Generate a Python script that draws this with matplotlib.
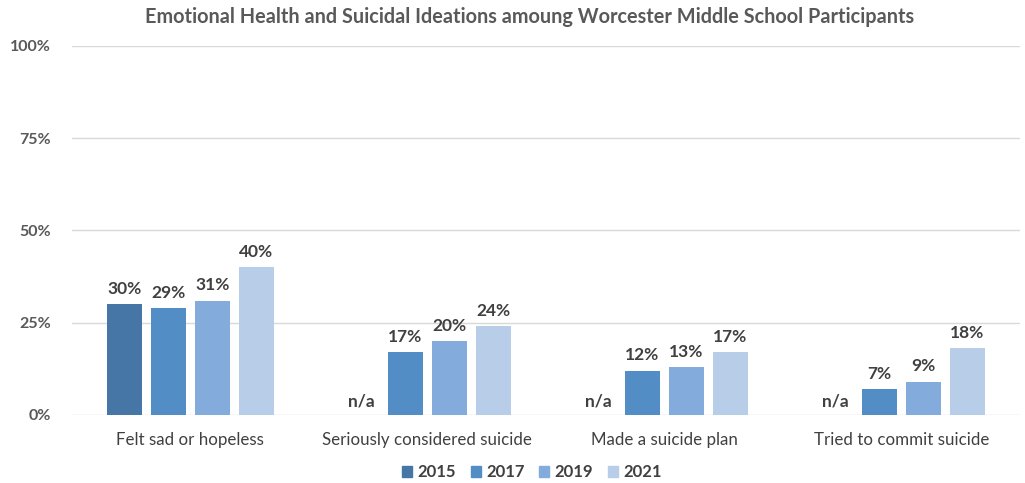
import matplotlib.pyplot as plt
import numpy as np

plt.rcParams['font.family'] = ['Lato', 'DejaVu Sans']

categories = ["Felt sad or hopeless", "Seriously considered suicide",
              "Made a suicide plan", "Tried to commit suicide"]
years = ["2015", "2017", "2019", "2021"]
# None = no data collected that year
values = {
    "2015": [30, None, None, None],
    "2017": [29, 17, 12, 7],
    "2019": [31, 20, 13, 9],
    "2021": [40, 24, 17, 18],
}
colors = ["#4676A6", "#538DC6", "#83ABDB", "#B8CDE8"]

fig = plt.figure(figsize=(10.25, 4.83), dpi=100)
ax = fig.add_axes([0.070, 0.141, 0.925, 0.764])

x = np.arange(len(categories))
step = 0.185
width = 0.148
text_color = "#404040"

for i, (yr, col) in enumerate(zip(years, colors)):
    pos = x + (i - 1.5) * step
    for xp, v in zip(pos, values[yr]):
        if v is None:
            ax.text(xp, 1.5, "n/a", ha="center", va="bottom", fontsize=12.5,
                    fontweight="bold", color=text_color)
            continue
        ax.bar(xp, v, width=width, color=col, zorder=3)
        ax.text(xp, v + 2, f"{v}%", ha="center", va="bottom", fontsize=12.5,
                fontweight="bold", color=text_color)

ax.set_xlim(-0.5, len(categories) - 0.5)
ax.set_ylim(0, 100)
ax.set_yticks([0, 25, 50, 75, 100])
ax.set_yticklabels([f"{t}%" for t in [0, 25, 50, 75, 100]], fontsize=11.5,
                   fontweight="bold", color="#595959")
ax.set_xticks(x)
ax.set_xticklabels(categories, fontsize=12.2, color=text_color)
ax.tick_params(axis="both", length=0)
ax.tick_params(axis="x", pad=12)
ax.tick_params(axis="y", pad=15)
ax.grid(axis="y", color="#D9D9D9", linewidth=1, zorder=0)
for s in ax.spines.values():
    s.set_visible(False)

handles = [plt.Rectangle((0, 0), 1, 1, color=c) for c in colors]
fig.legend(handles, years, loc="center", bbox_to_anchor=(0.519, 0.022),
           ncol=4, frameon=False, handlelength=0.6,
           handleheight=0.7, handletextpad=0.3, columnspacing=0.9,
           labelcolor=text_color, prop={"weight": "bold", "size": 12})

fig.text(0.517, 0.965, "Emotional Health and Suicidal Ideations amoung Worcester Middle School Participants",
         ha="center", va="center", fontsize=14.3, fontweight="bold", color="#595959")

fig.savefig("out.png", dpi=100)
